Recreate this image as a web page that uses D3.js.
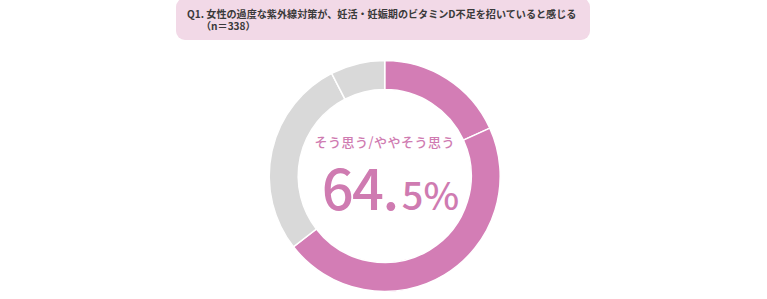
<!DOCTYPE html>
<html lang="ja">
<head>
<meta charset="utf-8">
<script src="https://cdn.jsdelivr.net/npm/d3@7.9.0/dist/d3.min.js"></script>
<style>
  html, body { margin: 0; padding: 0; background: #fff; }
  svg { display: block; }
</style>
</head>
<body>
<div id="chart"></div>
<script>
// Answers to Q1 (share of respondents, %)
const answers = ["そう思う", "ややそう思う", "あまりそう思わない", "そう思わない"];
const shares = [18.2, 46.3, 27.9, 7.6];
const sliceColors = ["#d37db5", "#d37db5", "#d9d9d9", "#d9d9d9"];

const titleLines = [
  "Q1. 女性の過度な紫外線対策が、妊活・妊娠期のビタミンD不足を招いていると感じる",
  "（n＝338）"
];
const centerLabel = "そう思う/ややそう思う";
const agreeTotal = d3.sum(shares.slice(0, 2)).toFixed(1); // "64.5"

const width = 767;
const height = 299;

const svg = d3
  .select("#chart")
  .append("svg")
  .attr("width", width)
  .attr("height", height);

// title box
svg
  .append("rect")
  .attr("x", 176)
  .attr("y", -2)
  .attr("width", 414)
  .attr("height", 42)
  .attr("rx", 9)
  .attr("fill", "#f2d9e7");

svg
  .append("g")
  .selectAll("text")
  .data(titleLines)
  .join("text")
  .attr("x", (d, i) => (i === 0 ? 187 : 201))
  .attr("y", (d, i) => 17.5 + i * 12.5)
  .attr("font-family", "'Noto Sans CJK JP', sans-serif")
  .attr("font-weight", 700)
  .attr("font-size", 10.1)
  .attr("fill", "#3a3a3a")
  .text((d) => d);

// donut
const cx = 384.7;
const cy = 176;

const pie = d3.pie().sort(null).value((d) => d);
const arc = d3.arc().innerRadius(86.5).outerRadius(115.5);

const donut = svg.append("g").attr("transform", `translate(${cx},${cy})`);

donut
  .selectAll("path")
  .data(pie(shares))
  .join("path")
  .attr("d", arc)
  .attr("fill", (d, i) => sliceColors[i])
  .attr("stroke", "#fff")
  .attr("stroke-width", 1.5)
  .append("title")
  .text((d, i) => `${answers[i]}: ${d.data}%`);

// center texts
donut
  .append("text")
  .attr("x", 0)
  .attr("y", -29.5)
  .attr("text-anchor", "middle")
  .attr("font-family", "'Noto Sans CJK JP', sans-serif")
  .attr("font-weight", 500)
  .attr("font-size", 13)
  .attr("letter-spacing", 0.5)
  .attr("fill", "#cf7bb1")
  .text(centerLabel);

const [intPart, decPart] = agreeTotal.split(".");
const big = donut
  .append("text")
  .attr("x", -63)
  .attr("y", 34)
  .attr("font-family", "'Noto Sans CJK JP', sans-serif")
  .attr("font-weight", 500)
  .attr("fill", "#cf7bb1");

big
  .append("tspan")
  .attr("font-size", 56)
  .attr("letter-spacing", -1.5)
  .text(intPart + ".");

big
  .append("tspan")
  .attr("font-size", 38)
  .attr("dx", 4)
  .text(decPart + "%");
</script>
</body>
</html>
